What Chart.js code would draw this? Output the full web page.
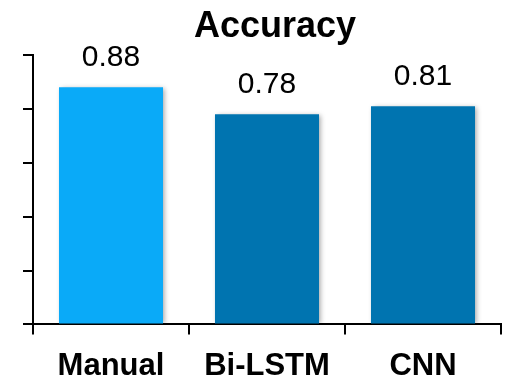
<!DOCTYPE html>
<html>
<head>
<meta charset="utf-8">
<script src="https://cdn.jsdelivr.net/npm/chart.js@4/dist/chart.umd.min.js"></script>
<style>
  html, body { margin: 0; padding: 0; background: #fff; }
  #wrap { width: 506px; height: 377px; }
</style>
</head>
<body>
<div id="wrap"><canvas id="myChart"></canvas></div>
<script>
'use strict';

const categories = ['Manual', 'Bi-LSTM', 'CNN'];
const accuracy = [0.88, 0.78, 0.81];
const valueLabels = ['0.88', '0.78', '0.81'];
const barColors = ['#0AAAF8', '#0074B0', '#0074B0'];

const FONT = '"Liberation Sans", Arial, sans-serif';

// title drawn by hand so it can sit a bit right of centre like the original
const titlePlugin = {
  id: 'titleText',
  afterDraw(chart) {
    const ctx = chart.ctx;
    ctx.save();
    ctx.font = 'bold 36px ' + FONT;
    ctx.fillStyle = '#000';
    ctx.textAlign = 'center';
    ctx.textBaseline = 'alphabetic';
    ctx.fillText('Accuracy', 275, 37);
    ctx.restore();
  }
};

// soft shadow under the bars
const shadowPlugin = {
  id: 'barShadow',
  beforeDatasetDraw(chart) {
    const ctx = chart.ctx;
    ctx.save();
    ctx.shadowColor = 'rgba(0,0,0,0.35)';
    ctx.shadowBlur = 5;
    ctx.shadowOffsetX = 2;
    ctx.shadowOffsetY = 1;
  },
  afterDatasetDraw(chart) {
    chart.ctx.restore();
  }
};

// value labels above each bar
const valuePlugin = {
  id: 'valueLabels',
  afterDatasetsDraw(chart) {
    const ctx = chart.ctx;
    const meta = chart.getDatasetMeta(0);
    ctx.save();
    ctx.font = '30px ' + FONT;
    ctx.fillStyle = '#000';
    ctx.textAlign = 'center';
    ctx.textBaseline = 'alphabetic';
    meta.data.forEach((bar, i) => {
      ctx.fillText(valueLabels[i], bar.x, bar.y - 21);
    });
    ctx.restore();
  }
};

const ctx = document.getElementById('myChart').getContext('2d');
const chart = new Chart(ctx, {
  type: 'bar',
  data: {
    labels: categories,
    datasets: [{
      data: accuracy,
      backgroundColor: barColors,
      borderWidth: 0,
      barPercentage: 0.667,
      categoryPercentage: 1.0
    }]
  },
  options: {
    responsive: true,
    maintainAspectRatio: false,
    animation: false,
    devicePixelRatio: 1,
    layout: { padding: { left: 23, right: 5, top: 55, bottom: -22 } },
    plugins: {
      legend: { display: false },
      title: { display: false },
      tooltip: { enabled: false }
    },
    scales: {
      x: {
        grid: {
          display: true,
          drawOnChartArea: false,
          drawTicks: true,
          tickLength: 10,
          color: '#000',
          lineWidth: 2
        },
        border: { display: true, color: '#000', width: 2 },
        ticks: {
          color: '#000',
          padding: 23,
          font: { family: FONT, size: 31, weight: 'bold', lineHeight: 0.6 }
        }
      },
      y: {
        min: 0,
        max: 1,
        grid: {
          display: true,
          drawOnChartArea: false,
          drawTicks: true,
          tickLength: 10,
          color: '#000',
          lineWidth: 2
        },
        border: { display: true, color: '#000', width: 2 },
        ticks: { display: false, stepSize: 0.2 }
      }
    }
  },
  plugins: [titlePlugin, shadowPlugin, valuePlugin]
});
</script>
</body>
</html>
